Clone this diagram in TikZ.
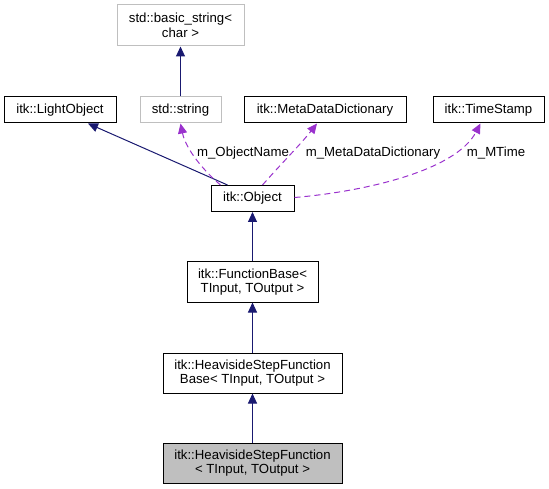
\documentclass[tikz,border=0pt]{standalone}
\usepackage{fontspec}
\setmainfont{Liberation Sans}
\usepackage{xcolor}
\usepackage{tikz}
\usetikzlibrary{arrows.meta, positioning}

\definecolor{inhblue}{HTML}{191970}
\definecolor{usepurple}{HTML}{9A32CD}
\definecolor{extgray}{HTML}{BFBFBF}

\begin{document}
\begin{tikzpicture}[x=1pt, y=-1pt,
    cls/.style={draw=black, line width=1pt, inner sep=0pt, align=center,
        font=\fontsize{13.2}{14.7}\selectfont},
    ext/.style={cls, draw=extgray},
    inherit/.style={draw=inhblue, line width=1pt, -{Triangle[length=10pt, width=9pt]}},
    member/.style={draw=usepurple, line width=1pt, dash pattern=on 6pt off 4pt,
        -{Triangle[length=10pt, width=9pt]}},
    lbl/.style={font=\fontsize{13.2}{14.7}\selectfont}]
\useasboundingbox (0,0) rectangle (549,489);

% classes
\node[ext, minimum width=127pt, minimum height=41pt] (bstr) at (180.5,25.5) {std::basic\_string\textless\\char \textgreater};
\node[cls, minimum width=112pt, minimum height=26pt] (light) at (60,110) {itk::LightObject};
\node[ext, minimum width=81pt, minimum height=26pt] (str) at (180.5,110) {std::string};
\node[cls, minimum width=162pt, minimum height=26pt] (mdd) at (325,110) {itk::MetaDataDictionary};
\node[cls, minimum width=111pt, minimum height=26pt] (stamp) at (488.5,110) {itk::TimeStamp};
\node[cls, minimum width=83pt, minimum height=26pt] (obj) at (252.5,198.5) {itk::Object};
\node[cls, minimum width=131pt, minimum height=40pt] (fbase) at (252.5,282) {itk::FunctionBase\textless\\TInput, TOutput \textgreater};
\node[cls, minimum width=179pt, minimum height=40pt] (hbase) at (252.5,373) {itk::HeavisideStepFunction\\Base\textless{} TInput, TOutput \textgreater};
\node[cls, fill=extgray, minimum width=179pt, minimum height=40pt] (hsf) at (252.5,463) {itk::HeavisideStepFunction\\\textless{} TInput, TOutput \textgreater};

% inheritance
\draw[inherit] (str.north) -- (bstr.south);
\draw[inherit] ([xshift=-25pt]obj.north) -- ([xshift=28pt]light.south);
\draw[inherit] (fbase.north) -- (obj.south);
\draw[inherit] (hbase.north) -- (fbase.south);
\draw[inherit] (hsf.north) -- (hbase.south);

% members
\draw[member] ([xshift=-32pt]obj.north) .. controls (205,172) and (186,150) .. (str.south);
\draw[member] ([xshift=10pt]obj.north) .. controls (280,165) and (300,145) .. ([xshift=-8pt]mdd.south);
\draw[member] ([yshift=1pt]obj.east) .. controls (360,192) and (455,172) .. ([xshift=-8pt]stamp.south);

% member names
\node[lbl] (nname) at (243,153) {m\_ObjectName};
\node[lbl] (nmdd) at (373,153) {m\_MetaDataDictionary};
\node[lbl] (ntime) at (496,153) {m\_MTime};
\end{tikzpicture}
\end{document}
